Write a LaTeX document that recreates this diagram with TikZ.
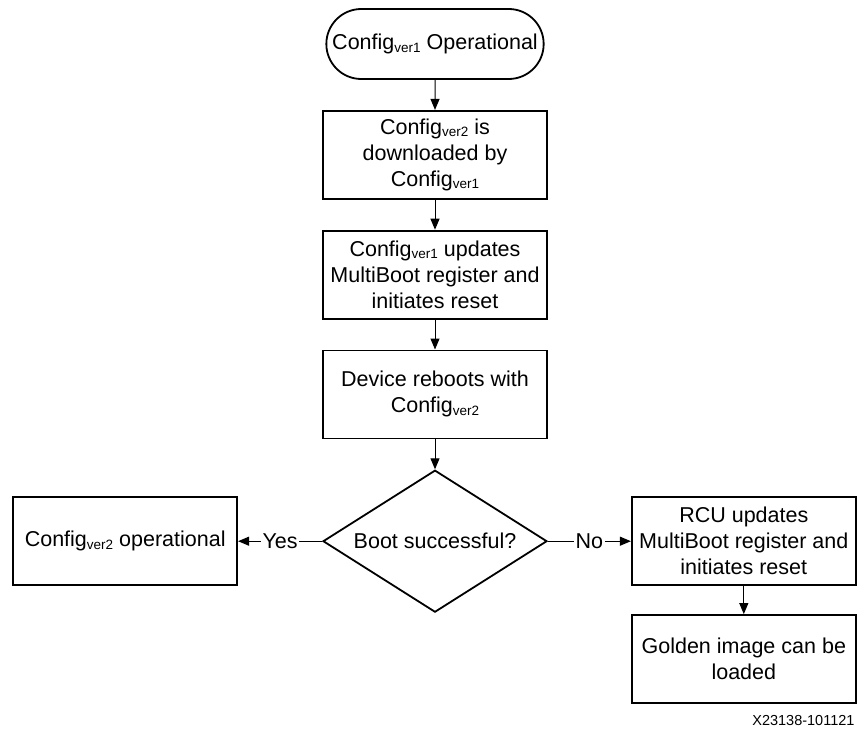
\documentclass[tikz,border=0pt]{standalone}
\usepackage{fontspec}
\setmainfont{Liberation Sans}
\usetikzlibrary{positioning,shapes.geometric,shapes.misc,arrows.meta}

\newcommand{\cfgver}[1]{Config\raisebox{-2.5pt}{\fontsize{13.5}{13.5}\selectfont ver#1}}

\begin{document}
\begin{tikzpicture}[x=1pt, y=-1pt, font=\fontsize{21.5}{26}\selectfont,
  etape/.style={draw, line width=1.8pt, minimum width=224pt, minimum height=88pt, align=center, inner sep=2pt},
  terminal/.style={draw, rounded rectangle, line width=1.8pt, minimum width=224pt, minimum height=70pt},
  choix/.style={draw, diamond, aspect=1.57, line width=1.8pt, minimum width=224pt, minimum height=142pt, inner sep=0pt},
  fleche/.style={-{Triangle[length=11pt,width=9pt]}, line width=1pt},
  etiq/.style={fill=white, inner sep=1.5pt}]

  \useasboundingbox (0,0) rectangle (861,730);

  % === Etapes ===
  \node[terminal] (debut) at (435,44) {\cfgver{1} Operational};
  \node[etape, below=30pt of debut] (telech) {\cfgver{2} is\\downloaded by\\\cfgver{1}};
  \node[etape, below=30pt of telech] (maj) {\cfgver{1} updates\\MultiBoot register and\\initiates reset};
  \node[etape, below=30pt of maj] (reboot) {Device reboots with\\\cfgver{2}};
  \node[choix, below=30pt of reboot] (test) {Boot successful?};

  % === Branches ===
  \node[etape, left=84pt of test] (ok) {\cfgver{2} operational};
  \node[etape, right=83pt of test] (rcu) {RCU updates\\MultiBoot register and\\initiates reset};
  \node[etape, below=28pt of rcu] (golden) {Golden image can be\\loaded};

  % === Fleches ===
  \draw[fleche] (debut) -- (telech);
  \draw[fleche] (telech) -- (maj);
  \draw[fleche] (maj) -- (reboot);
  \draw[fleche] (reboot) -- (test);
  \draw[fleche] (test) -- node[etiq] {Yes} (ok);
  \draw[fleche] (test) -- node[etiq] {No} (rcu);
  \draw[fleche] (rcu) -- (golden);

  % reference
  \node[anchor=south east, font=\fontsize{14.5}{14.5}\selectfont] (refnum) at (858,729) {X23138-101121};

\end{tikzpicture}
\end{document}
